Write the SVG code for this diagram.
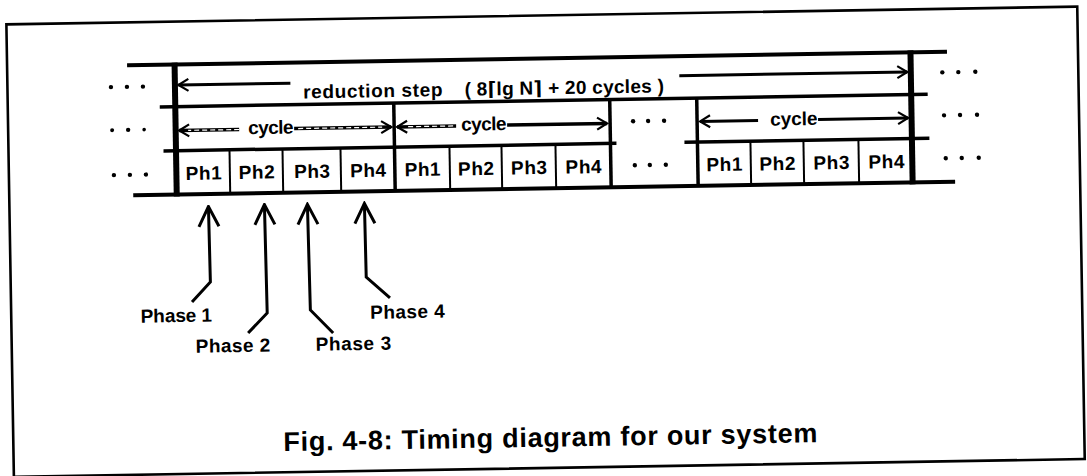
<svg xmlns="http://www.w3.org/2000/svg" width="1087" height="476" viewBox="0 0 1087 476">
<style>
.ln{stroke:#000;fill:none;stroke-linecap:butt}
.t{font-family:"Liberation Sans","DejaVu Sans",sans-serif;font-weight:bold;font-size:19px;letter-spacing:0.6px;fill:#000}
.ph{text-anchor:middle}
.dot{fill:#000}
.hatch{stroke:#fff;stroke-width:1.2;stroke-dasharray:5 3;fill:none}
</style>
<defs>
<marker id="ah" viewBox="-12 -8 14 16" refX="0" refY="0" markerWidth="14" markerHeight="16" markerUnits="userSpaceOnUse" orient="auto">
<path d="M-10,-6 L0,0 L-10,6" fill="none" stroke="#000" stroke-width="2.2"/>
</marker>
<marker id="ahb" viewBox="-22 -12 24 24" refX="0" refY="0" markerWidth="24" markerHeight="24" markerUnits="userSpaceOnUse" orient="auto">
<path d="M-20,-10 L0,0 L-20,10" fill="none" stroke="#000" stroke-width="3"/>
</marker>
</defs>
<rect width="1087" height="476" fill="#fff"/>
<g transform="rotate(-0.95 543 238)">
<g id="frame">
<rect x="10" y="15.5" width="1071" height="452.5" fill="none" stroke="#000" stroke-width="2.6"/>
</g>
<g id="grid" class="ln">
<line x1="130" y1="58.5" x2="950" y2="58.5" stroke-width="4"/>
<line x1="162" y1="100.6" x2="930" y2="100.6" stroke-width="3.5"/>
<line x1="165" y1="144.6" x2="618" y2="144.6" stroke-width="3.5"/>
<line x1="686" y1="144.6" x2="931" y2="144.6" stroke-width="3.5"/>
<line x1="134" y1="188.5" x2="956" y2="188.5" stroke-width="4"/>
<line x1="177.5" y1="56.5" x2="177.5" y2="190.5" stroke-width="6"/>
<line x1="913.5" y1="56.5" x2="913.5" y2="190.5" stroke-width="6"/>
<line x1="396" y1="100.6" x2="396" y2="188.5" stroke-width="3.5"/>
<line x1="612" y1="100.6" x2="612" y2="188.5" stroke-width="3.5"/>
<line x1="699" y1="100.6" x2="699" y2="188.5" stroke-width="3.5"/>
<g stroke-width="2">
<line x1="231" y1="144.6" x2="231" y2="188.5"/>
<line x1="284" y1="144.6" x2="284" y2="188.5"/>
<line x1="342" y1="144.6" x2="342" y2="188.5"/>
<line x1="451" y1="144.6" x2="451" y2="188.5"/>
<line x1="503" y1="144.6" x2="503" y2="188.5"/>
<line x1="557" y1="144.6" x2="557" y2="188.5"/>
<line x1="752" y1="144.6" x2="752" y2="188.5"/>
<line x1="805" y1="144.6" x2="805" y2="188.5"/>
<line x1="860" y1="144.6" x2="860" y2="188.5"/>
</g>
</g>
<g id="connectors" class="ln">
<line x1="293" y1="79" x2="181" y2="79" stroke-width="3" marker-end="url(#ah)"/>
<line x1="682" y1="78" x2="910" y2="78" stroke-width="3" marker-end="url(#ah)"/>
<line x1="241" y1="124.5" x2="181" y2="124.5" stroke-width="3.5" marker-end="url(#ah)"/>
<line x1="241" y1="124.5" x2="190" y2="124.5" class="hatch"/>
<line x1="296" y1="124.5" x2="393" y2="124.5" stroke-width="3.5" marker-end="url(#ah)"/>
<line x1="300" y1="124.5" x2="384" y2="124.5" class="hatch"/>
<line x1="458" y1="124.5" x2="399" y2="124.5" stroke-width="3.5" marker-end="url(#ah)"/>
<line x1="455" y1="124.5" x2="408" y2="124.5" class="hatch"/>
<line x1="509" y1="124.5" x2="609" y2="124.5" stroke-width="3.5" marker-end="url(#ah)"/>
<line x1="760" y1="124" x2="702" y2="124" stroke-width="3" marker-end="url(#ah)"/>
<line x1="820" y1="124" x2="910" y2="124" stroke-width="3" marker-end="url(#ah)"/>
<polyline points="191,296.2 209.7,276.5 209,201" stroke-width="3" marker-end="url(#ahb)"/>
<polyline points="246.6,328.1 266,308.4 265,200" stroke-width="3" marker-end="url(#ahb)"/>
<polyline points="331.6,329.5 309.2,306.1 308,200.5" stroke-width="3" marker-end="url(#ahb)"/>
<polyline points="389,295.4 365.6,274.1 365,200.5" stroke-width="3" marker-end="url(#ahb)"/>
</g>
<g id="labels">
<text class="t" x="305.6" y="94.5" textLength="140" lengthAdjust="spacing">reduction step</text>
<text class="t" x="467" y="94.5" textLength="200" lengthAdjust="spacing">( 8⌈lg N⌉ + 20 cycles )</text>
<text class="t" x="250" y="129.5" textLength="46" lengthAdjust="spacing">cycle</text>
<text class="t" x="463" y="129.5" textLength="46" lengthAdjust="spacing">cycle</text>
<text class="t" x="772" y="129.5" textLength="48" lengthAdjust="spacing">cycle</text>
</g>
<g id="phases">
<text class="t ph" x="205" y="174">Ph1</text>
<text class="t ph" x="258" y="174">Ph2</text>
<text class="t ph" x="313.5" y="174">Ph3</text>
<text class="t ph" x="369.5" y="174">Ph4</text>
<text class="t ph" x="424" y="174">Ph1</text>
<text class="t ph" x="477.5" y="174">Ph2</text>
<text class="t ph" x="530.5" y="174">Ph3</text>
<text class="t ph" x="585" y="174">Ph4</text>
<text class="t ph" x="726" y="174">Ph1</text>
<text class="t ph" x="779" y="174">Ph2</text>
<text class="t ph" x="833" y="174">Ph3</text>
<text class="t ph" x="888" y="174">Ph4</text>
</g>
<g id="dots">
<circle class="dot" cx="113.5" cy="80" r="2.2"/><circle class="dot" cx="129.5" cy="80" r="2.2"/><circle class="dot" cx="145.5" cy="80" r="2.2"/>
<circle class="dot" cx="114" cy="123" r="2"/><circle class="dot" cx="130" cy="123" r="2.2"/><circle class="dot" cx="146" cy="123" r="1.8"/>
<circle class="dot" cx="115" cy="168" r="2.2"/><circle class="dot" cx="131" cy="168" r="2.2"/><circle class="dot" cx="147" cy="168" r="2.2"/>
<circle class="dot" cx="945" cy="79" r="2.2"/><circle class="dot" cx="961" cy="79" r="2.2"/><circle class="dot" cx="978" cy="79" r="2.2"/>
<circle class="dot" cx="946" cy="122" r="2.2"/><circle class="dot" cx="962" cy="122" r="2.2"/><circle class="dot" cx="979" cy="122" r="2.2"/>
<circle class="dot" cx="947" cy="165" r="2.2"/><circle class="dot" cx="963" cy="165" r="2.2"/><circle class="dot" cx="980" cy="165" r="2.2"/>
<circle class="dot" cx="635" cy="122.8" r="2.2"/><circle class="dot" cx="650" cy="122.8" r="2.2"/><circle class="dot" cx="666" cy="122.8" r="2.2"/>
<circle class="dot" cx="636" cy="166.8" r="2.2"/><circle class="dot" cx="651" cy="166.8" r="2.2"/><circle class="dot" cx="667" cy="166.8" r="2.2"/>
</g>
<g id="phase-labels">
<text class="t" x="139.4" y="316" textLength="72" lengthAdjust="spacing">Phase 1</text>
<text class="t" x="194" y="347" textLength="75" lengthAdjust="spacing">Phase 2</text>
<text class="t" x="314" y="347" textLength="76" lengthAdjust="spacing">Phase 3</text>
<text class="t" x="369" y="316" textLength="75" lengthAdjust="spacing">Phase 4</text>
</g>
<g id="caption">
<text x="280" y="446.7" textLength="534" lengthAdjust="spacing" style="font-family:'Liberation Sans','DejaVu Sans',sans-serif;font-weight:bold;font-size:27px;fill:#000">Fig. 4-8:  Timing diagram for our system</text>
</g>
</g>
</svg>
